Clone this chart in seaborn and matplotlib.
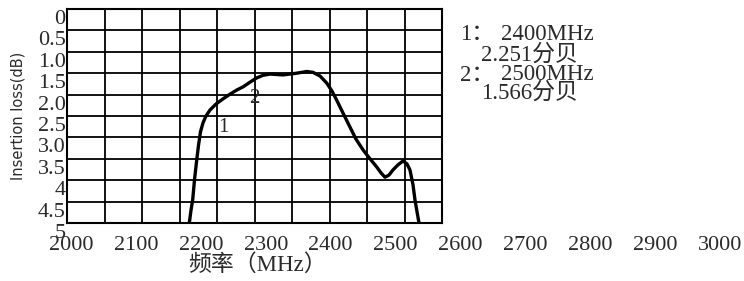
import numpy as np
import pandas as pd
import matplotlib
matplotlib.use("Agg")
import matplotlib.pyplot as plt
import matplotlib.transforms as mtransforms
import seaborn as sns

# ---- data ----
freq_mhz = [2182.3, 2184.9, 2187.5, 2190.3, 2193.7, 2196.5, 2199.5, 2203.4, 2208.0, 2214.2,
            2223.4, 2234.2, 2245.0, 2255.8, 2265.0, 2275.8, 2286.1, 2295.8, 2306.6, 2326.7,
            2347.8, 2363.2, 2372.9, 2383.7, 2394.0, 2402.2, 2409.4, 2419.1, 2429.9, 2439.1,
            2449.9, 2460.7, 2471.0, 2477.7, 2483.8, 2490.0, 2496.1, 2503.9, 2511.6, 2517.7,
            2522.3, 2527.0, 2530.0, 2536.2]
loss_db = [5.0, 4.70, 4.46, 3.99, 3.53, 3.18, 2.87, 2.66, 2.50, 2.36,
           2.22, 2.10, 1.99, 1.89, 1.82, 1.71, 1.61, 1.55, 1.52, 1.54,
           1.50, 1.46, 1.48, 1.565, 1.73, 1.92, 2.13, 2.43, 2.76, 3.04,
           3.29, 3.50, 3.69, 3.83, 3.93, 3.88, 3.76, 3.64, 3.55, 3.62,
           3.76, 4.11, 4.46, 5.0]
y_ticks = [0, 0.5, 1.0, 1.5, 2.0, 2.5, 3.0, 3.5, 4.0, 4.5, 5.0]
y_ticklabels = ["0", "0.5", "1.0", "1.5", "2.0", "2.5", "3.0", "3.5", "4", "4.5", "5"]
x_ticks = [2000, 2100, 2200, 2300, 2400, 2500, 2600, 2700, 2800, 2900, 3000]
x_ticklabels = [str(v) for v in x_ticks]
marker_labels = ["1", "2"]
marker_pos = [(2234, 2.78), (2282, 2.08)]
note_lines = ["1：", "2400MHz", "2.251分贝", "2：", "2500MHz", "1.566分贝"]
x_label = "频率（MHz）"
y_label = "Insertion loss(dB)"

df = pd.DataFrame({"freq": freq_mhz, "loss": loss_db})

sns.set_style("white")
plt.rcParams["font.family"] = ["Liberation Serif", "Noto Sans CJK SC", "DejaVu Sans"]

W, H = 744, 281
fig = plt.figure(figsize=(W / 100, H / 100), dpi=100)

# pixel geometry
PX_PER_MHZ = 0.649
X0_PX = 71.0  # pixel centre of 2000
def f_at(px):
    return 2000 + (px - X0_PX) / PX_PER_MHZ

left_px, right_px, top_px, bot_px = 67, 442, 9, 223
ax = fig.add_axes([left_px / W, 1 - bot_px / H, (right_px - left_px) / W, (bot_px - top_px) / H])
xl = (f_at(left_px), f_at(right_px))
ax.set_xlim(*xl)
ax.set_ylim(5, 0)

txtcol = "#2a2a2a"
# grid (10 x 10 cells)
ax.set_xticks(np.linspace(xl[0], xl[1], 11))
ax.set_xticklabels([])
ax.set_yticks(y_ticks)
ax.set_yticklabels(y_ticklabels, fontsize=16, color=txtcol)
ax.tick_params(axis="both", length=0, pad=1)
ax.grid(True, color="black", linewidth=1.3)
for s in ax.spines.values():
    s.set_color("black")
    s.set_linewidth(1.5)
off = mtransforms.ScaledTranslation(0, -8 / 100, fig.dpi_scale_trans)
for lab in ax.get_yticklabels():
    lab.set_transform(lab.get_transform() + off)

sns.lineplot(data=df, x="freq", y="loss", ax=ax, color="black", linewidth=2.4, sort=False)
ax.set_xlabel("")
ax.set_ylabel("")

for t, (fx, fy) in zip(marker_labels, marker_pos):
    ax.text(fx, fy, t, fontsize=15, color=txtcol, ha="center", va="center")

# frequency tick labels (extend beyond the grid)
ax2 = fig.add_axes([0, 1 - bot_px / H, 1, 0.0001])
ax2.set_xlim(f_at(0), f_at(W))
ax2.set_xticks(x_ticks)
ax2.set_xticklabels(x_ticklabels, fontsize=16, color=txtcol)
ax2.tick_params(axis="x", length=0, pad=9)
ax2.set_yticks([])
for s in ax2.spines.values():
    s.set_visible(False)
ax2.patch.set_visible(False)

fig.text(257 / W, 1 - 265 / H, x_label, fontsize=16.5, color=txtcol, ha="center", va="center")
fig.text(18 / W, 1 - 116 / H, y_label, fontsize=10.5, family="DejaVu Sans", color=txtcol,
         rotation=90, ha="center", va="center")

note_pos = [(460, 34), (501, 34), (481, 55), (460, 75), (501, 75), (481, 93)]
for t, (px, py) in zip(note_lines, note_pos):
    fig.text(px / W, 1 - py / H, t, fontsize=16.5, color=txtcol, ha="left", va="center")

fig.savefig("out.png", dpi=100)
